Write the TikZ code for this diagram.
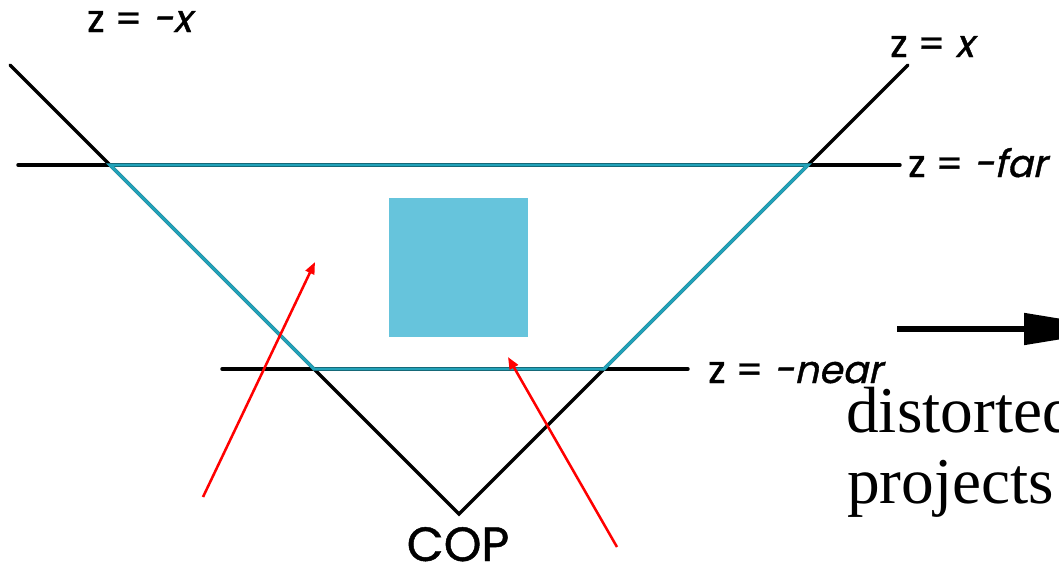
\documentclass[tikz,border=0pt]{standalone}
\usepackage{fontspec}
\usepackage{xcolor}
\usepackage{tikz}
\usetikzlibrary{arrows.meta,positioning}
\setmainfont{Liberation Serif}
\newfontfamily\gothic{Poppins}[FakeBold=1, ItalicFont=Poppins, ItalicFeatures={FakeSlant=0.22, FakeBold=1}]
\definecolor{frustum}{HTML}{22A2B9}
\definecolor{solid}{HTML}{66C4DC}
\definecolor{pointer}{HTML}{FF0000}
\tikzset{
  axis/.style={draw=black, line width=2.6pt, line cap=round},
  frust/.style={draw=frustum, line width=2.6pt},
  cube/.style={rectangle, fill=solid, draw=none, inner sep=0pt, minimum size=104.25pt},
  lbl/.style={font=\gothic\fontsize{28.5}{34}\selectfont, inner sep=0pt, anchor=base west},
  copfont/.style={font=\gothic\fontsize{36}{40}\selectfont, inner sep=0pt, anchor=base},
  note/.style={-{Triangle[length=9pt, width=7pt]}, draw=pointer, line width=1.9pt},
  bigarrow/.style={-{Triangle[length=75pt, width=23pt]}, draw=black, line width=4.5pt},
  caption/.style={font=\fontsize{49}{56}\selectfont, inner sep=0pt, anchor=base west},
}

\begin{document}
\begin{tikzpicture}[x=0.75pt, y=-0.75pt]
\clip (0,0) rectangle (1059,564);
\coordinate (cop) at (459,514);
\coordinate (lt) at (10,65);
\coordinate (rt) at (908,65);
\coordinate (lfar) at (110,165);
\coordinate (rfar) at (808,165);
\coordinate (lnear) at (314,369);
\coordinate (rnear) at (604,369);
\coordinate (farA) at (18,165);
\coordinate (farB) at (900,165);
\coordinate (nearA) at (222,369);
\coordinate (nearB) at (688,369);
\draw[axis] (lt) -- (cop) -- (rt);
\draw[axis] (farA) -- (farB);
\draw[axis] (nearA) -- (nearB);
\draw[frust] (lfar) -- (rfar) -- (rnear) -- (lnear) -- cycle;
\node[cube] (obj) at (458.5,267.5) {};

\coordinate (tailA) at (203,497);
\coordinate (tipA) at (315,262);
\coordinate (tailB) at (617,547);
\coordinate (tipB) at (508,357);
\draw[note] (tailA) -- (tipA);
\draw[note] (tailB) -- (tipB);

\node[lbl] (zmx) at (87,32) {z = \textit{-x}};
\node[lbl] (zx) at (890,57) {z = \textit{x}};
\node[lbl] (zfar) at (908,177) {z = \textit{-far}};
\node[lbl] (znear) at (708,383) {z = \textit{-near}};
\node[copfont] (coplbl) at (458,561) {COP};

\coordinate (arrA) at (897,329);
\coordinate (arrB) at (1124,329);
\draw[bigarrow] (arrA) -- (arrB);
\node[caption] (cap1) at (846,432) {distorted};
\node[caption] (cap2) at (847,503) {projects};
\end{tikzpicture}
\end{document}
